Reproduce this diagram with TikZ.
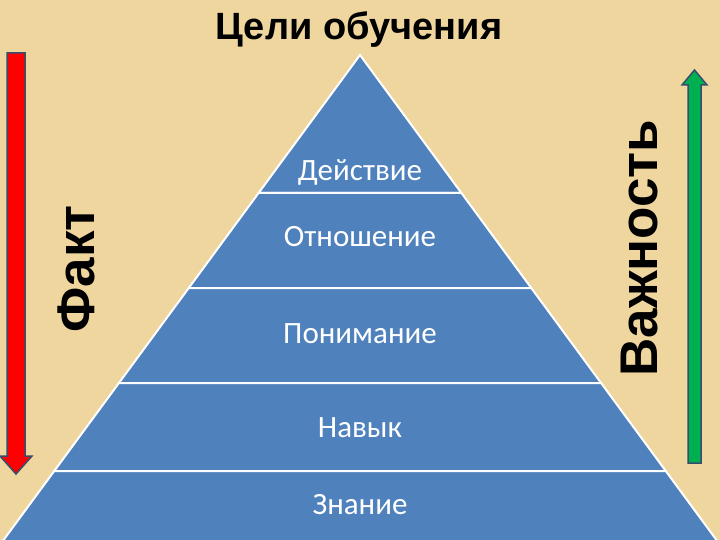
\documentclass[tikz,border=0pt]{standalone}
\usepackage{fontspec}
\setmainfont{Carlito}
\newfontfamily\headfont{Liberation Sans}
\definecolor{bgtan}{RGB}{238,214,158}
\definecolor{pyrblue}{RGB}{79,129,189}
\definecolor{arrline}{RGB}{56,77,110}
\definecolor{arrred}{RGB}{255,0,0}
\definecolor{arrgreen}{RGB}{0,176,80}
\tikzset{
  layer/.style={fill=pyrblue, draw=white, line width=2pt, line join=miter},
  lbl/.style={text=white, font=\fontsize{31}{33}\selectfont, anchor=base, inner sep=0pt},
  side/.style={font=\headfont\bfseries\fontsize{53}{55}\selectfont, anchor=base, inner sep=0pt, rotate=90},
  blockarrow/.style={draw=arrline, line width=1.5pt, line join=miter}
}
\begin{document}
\begin{tikzpicture}[x=1pt,y=-1pt]
\fill[bgtan] (0,0) rectangle (720,540);
\useasboundingbox (0,0) rectangle (720,540);
% pyramid layers: x = 360 -/+ 0.735*(y-55)
\def\sl{0.735}
\foreach \ya/\yb in {55/193,193/288,288/383,383/471,471/545}{
  \pgfmathsetmacro\xla{360-\sl*(\ya-55)}
  \pgfmathsetmacro\xra{360+\sl*(\ya-55)}
  \pgfmathsetmacro\xlb{360-\sl*(\yb-55)}
  \pgfmathsetmacro\xrb{360+\sl*(\yb-55)}
  \draw[layer] (\xla,\ya) -- (\xra,\ya) -- (\xrb,\yb) -- (\xlb,\yb) -- cycle;
}
\node[lbl] (deystvie) at (360,181) {Действие};
\node[lbl] (otnoshenie) at (360,247) {Отношение};
\node[lbl] (ponimanie) at (360,343) {Понимание};
\node[lbl] (navyk) at (360,437) {Навык};
\node[lbl] (znanie) at (360,514) {Знание};
% title
\node[font=\headfont\bfseries\fontsize{38}{40}\selectfont, anchor=base, inner sep=0pt] (title) at (359,40) {Цели обучения};
% side labels
\node[side] (fakt) at (94,269) {Факт};
\node[side] (vazhnost) at (657,248) {Важность};
% red arrow (down)
\draw[blockarrow, fill=arrred] (7,53) -- (25,53) -- (25,456) -- (32,456) -- (16,474) -- (0,456) -- (7,456) -- cycle;
% green arrow (up)
\draw[blockarrow, fill=arrgreen] (688,463) -- (701,463) -- (701,85) -- (707,85) -- (694.5,70) -- (682,85) -- (688,85) -- cycle;
\end{tikzpicture}
\end{document}
